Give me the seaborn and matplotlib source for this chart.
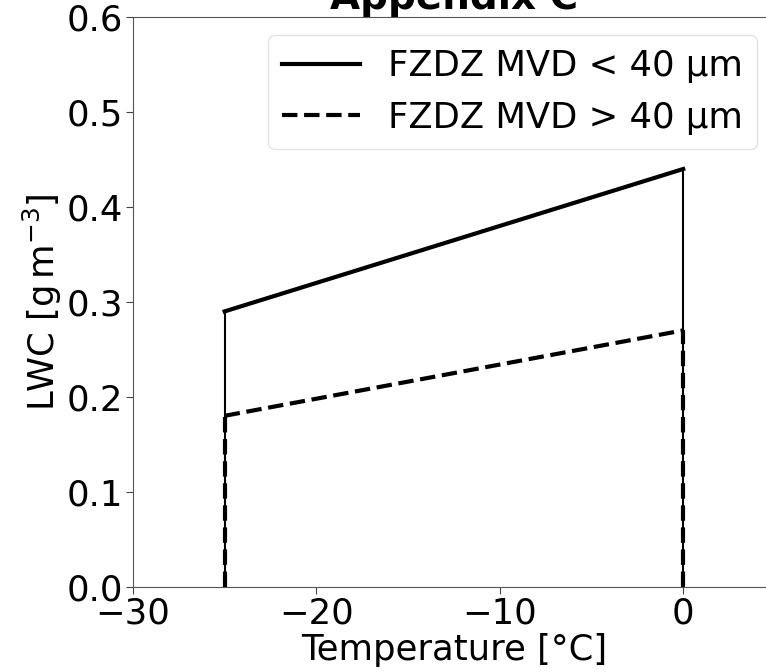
import matplotlib
matplotlib.use("Agg")
import matplotlib.pyplot as plt
import seaborn as sns

# Data
temp_range = [-25, 0]
lwc_small = [0.29, 0.44]   # FZDZ MVD < 40 um
lwc_large = [0.18, 0.27]   # FZDZ MVD > 40 um
labels = ["FZDZ MVD < 40 µm", "FZDZ MVD > 40 µm"]
xlim = [-30, 5]
ylim = [0.0, 0.6]
xticks = [-30, -20, -10, 0]
yticks = [0.0, 0.1, 0.2, 0.3, 0.4, 0.5, 0.6]

plt.rcParams['font.family'] = ['DejaVu Sans']
FS = 25.5

fig = plt.figure(figsize=(7.66, 6.72), dpi=100)
ax = fig.add_axes([0.1736, 0.127, 0.838, 0.8475])

# main sloped lines
sns.lineplot(x=temp_range, y=lwc_small, ax=ax, color="black", lw=3,
             label=labels[0], estimator=None, sort=False)
sns.lineplot(x=temp_range, y=lwc_large, ax=ax, color="black", lw=3, linestyle="--",
             label=labels[1], estimator=None, sort=False)

# vertical boundary lines
for t, v in zip(temp_range, lwc_small):
    sns.lineplot(x=[t, t], y=[0, v], ax=ax, color="black", lw=1.5,
                 estimator=None, sort=False, legend=False)
for t, v in zip(temp_range, lwc_large):
    sns.lineplot(x=[t, t], y=[0, v], ax=ax, color="black", lw=3, linestyle="--",
                 estimator=None, sort=False, legend=False)

ax.set_xlim(xlim)
ax.set_ylim(ylim)
ax.set_xticks(xticks)
ax.set_yticks(yticks)
ax.set_yticklabels([f"{v:.1f}" for v in yticks])
ax.tick_params(labelsize=FS, length=5, color="#444444", pad=2)
for s in ax.spines.values():
    s.set_color("#555555")
ax.set_xlabel("Temperature [°C]", fontsize=FS, labelpad=2)
ax.set_ylabel(r"LWC [$\mathrm{g\,m^{-3}}$]", fontsize=FS, labelpad=2)
ax.set_title("Appendix C", fontsize=28, fontweight="bold", pad=3)

leg = ax.legend(loc="upper right", fontsize=FS, handlelength=2.2, frameon=True)
leg.get_frame().set_edgecolor("#dddddd")

fig.savefig("out.png", dpi=100)
